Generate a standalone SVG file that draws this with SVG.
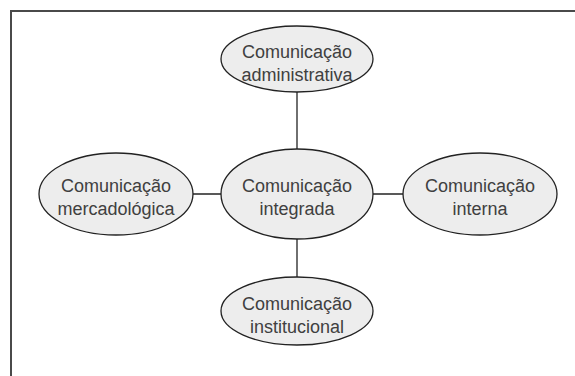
<svg xmlns="http://www.w3.org/2000/svg" width="575" height="376" viewBox="0 0 575 376">
<style>
.n ellipse{fill:#ededed;stroke:#222;stroke-width:1.3}
.n text{font-family:"Liberation Sans",Arial,sans-serif;font-size:18px;fill:#404040;text-anchor:middle}
.c line{stroke:#222;stroke-width:1.3}
</style>
<rect width="575" height="376" fill="#fff"/>
<path d="M11 376 V11 H575" fill="none" stroke="#4a4a4a" stroke-width="2"/>
<g class="c" id="connectors">
<line x1="297" y1="59" x2="297" y2="311"/>
<line x1="116" y1="194" x2="480" y2="194"/>
</g>
<g class="n" id="admin"><ellipse cx="297" cy="59" rx="76" ry="33"/><text x="297" y="58">Comunicação</text><text x="297" y="81">administrativa</text></g>
<g class="n" id="integrada"><ellipse cx="297" cy="194" rx="76" ry="45"/><text x="297" y="192">Comunicação</text><text x="297" y="215">integrada</text></g>
<g class="n" id="mercado"><ellipse cx="116" cy="194" rx="77" ry="41"/><text x="116" y="192">Comunicação</text><text x="116" y="215">mercadológica</text></g>
<g class="n" id="interna"><ellipse cx="480" cy="194" rx="77" ry="41"/><text x="480" y="192">Comunicação</text><text x="480" y="215">interna</text></g>
<g class="n" id="institucional"><ellipse cx="297" cy="311" rx="76" ry="34"/><text x="297" y="310">Comunicação</text><text x="297" y="333">institucional</text></g>
</svg>
